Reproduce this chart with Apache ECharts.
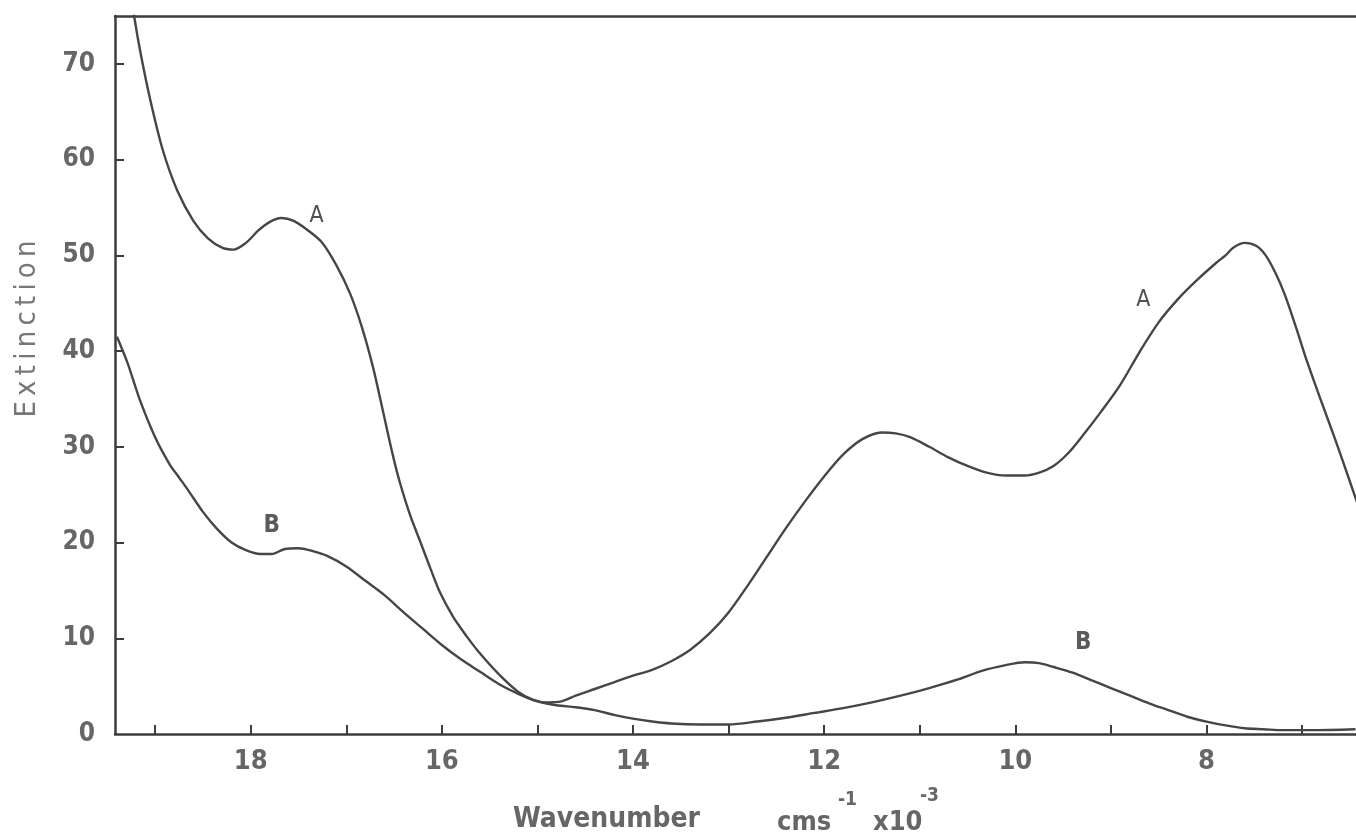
<!DOCTYPE html>
<html>
<head>
<meta charset="utf-8">
<title>Extinction spectra</title>
<script src="https://cdn.jsdelivr.net/npm/echarts@6/dist/echarts.min.js"></script>
<style>
  html, body { margin: 0; padding: 0; background: #fff; }
  #chart { width: 1356px; height: 840px; }
</style>
</head>
<body>
<div id="chart"></div>
<script>
// Wavenumber (cm^-1 x 10^-3) against extinction for the two spectra.
const curveA = [
  [19.26, 78.0], [19.22, 75.0], [19.15, 71.0], [19.05, 66.2], [18.92, 61.0],
  [18.77, 56.8], [18.60, 53.6], [18.45, 51.8], [18.30, 50.8], [18.18, 50.6],
  [18.05, 51.3], [17.92, 52.6], [17.80, 53.5], [17.68, 53.9], [17.55, 53.6],
  [17.40, 52.6], [17.25, 51.3], [17.10, 48.9], [16.96, 46.0], [16.84, 42.6],
  [16.72, 38.3], [16.62, 33.9], [16.51, 29.0], [16.44, 26.3], [16.33, 22.8],
  [16.23, 20.2], [16.12, 17.3], [16.02, 14.8], [15.88, 12.2], [15.74, 10.2],
  [15.60, 8.4], [15.40, 6.2], [15.20, 4.4], [15.05, 3.6], [14.90, 3.3],
  [14.75, 3.4], [14.60, 4.0], [14.40, 4.7], [14.20, 5.4], [14.00, 6.1],
  [13.80, 6.7], [13.60, 7.6], [13.40, 8.8], [13.20, 10.5], [13.00, 12.7],
  [12.80, 15.5], [12.60, 18.5], [12.40, 21.5], [12.20, 24.3], [12.00, 26.9],
  [11.80, 29.2], [11.60, 30.8], [11.40, 31.5], [11.25, 31.4], [11.10, 31.0],
  [10.90, 30.0], [10.70, 28.9], [10.50, 28.0], [10.30, 27.3], [10.10, 27.0],
  [9.90, 27.0], [9.75, 27.3], [9.60, 28.0], [9.45, 29.3], [9.30, 31.1],
  [9.10, 33.7], [8.90, 36.5], [8.70, 39.9], [8.50, 43.0], [8.30, 45.4],
  [8.10, 47.4], [7.90, 49.2], [7.80, 50.0], [7.72, 50.8], [7.60, 51.3],
  [7.48, 51.0], [7.38, 50.0], [7.28, 48.2], [7.18, 45.9], [7.06, 42.4],
  [6.95, 39.0], [6.80, 34.8], [6.65, 30.7], [6.50, 26.4], [6.40, 23.5]
];

const curveB = [
  [19.40, 41.5], [19.29, 38.8], [19.16, 34.9], [19.00, 31.0], [18.85, 28.2],
  [18.75, 26.8], [18.65, 25.4], [18.50, 23.2], [18.35, 21.4], [18.20, 20.0],
  [18.05, 19.2], [17.90, 18.8], [17.78, 18.8], [17.65, 19.3], [17.50, 19.4],
  [17.35, 19.1], [17.20, 18.6], [17.00, 17.5], [16.80, 16.0], [16.60, 14.5],
  [16.40, 12.7], [16.20, 11.0], [16.00, 9.3], [15.80, 7.8], [15.60, 6.5],
  [15.40, 5.2], [15.20, 4.2], [15.00, 3.4], [14.80, 3.0], [14.60, 2.8],
  [14.40, 2.5], [14.20, 2.0], [14.00, 1.6], [13.80, 1.3], [13.60, 1.1],
  [13.30, 1.0], [13.00, 1.0], [12.70, 1.3], [12.40, 1.7], [12.10, 2.2],
  [11.80, 2.7], [11.50, 3.3], [11.20, 4.0], [10.90, 4.8], [10.60, 5.7],
  [10.35, 6.6], [10.10, 7.2], [9.90, 7.5], [9.75, 7.4], [9.60, 7.0],
  [9.40, 6.4], [9.20, 5.6], [9.00, 4.8], [8.80, 4.0], [8.60, 3.2],
  [8.40, 2.5], [8.20, 1.8], [8.00, 1.3], [7.80, 0.9], [7.60, 0.6],
  [7.40, 0.5], [7.20, 0.4], [6.90, 0.4], [6.44, 0.5]
];

// Tick marks and labels
const xTicks = [7, 8, 9, 10, 11, 12, 13, 14, 15, 16, 17, 18, 19];
const xTickLabels = [8, 10, 12, 14, 16, 18];
const yTickLabels = [0, 10, 20, 30, 40, 50, 60, 70];

// Curve annotations: [text, wavenumber, extinction]
const curveLabelsA = [['A', 17.31, 54.1], ['A', 8.66, 45.35]];
const curveLabelsB = [['B', 17.78, 21.7], ['B', 9.29, 9.5]];

const X_MIN = 6.435, X_MAX = 19.42, Y_MAX = 75;
const INK = '#3c3c3c';
const CURVE = '#464646';
const TEXT = '#666666';
const COND = '"DejaVu Sans Condensed", "DejaVu Sans", sans-serif';

function annotations(list, bold) {
  return {
    symbol: 'circle',
    symbolSize: 0,
    silent: true,
    label: {
      show: true,
      position: 'inside',
      formatter: p => p.name,
      color: bold ? '#5a5a5a' : '#505050',
      fontFamily: COND,
      fontSize: bold ? 24 : 23,
      fontWeight: bold ? 'bold' : 'normal'
    },
    data: list.map(d => ({ name: d[0], coord: [d[1], d[2]] }))
  };
}

const chart = echarts.init(document.getElementById('chart'), null, { renderer: 'canvas' });

chart.setOption({
  animation: false,
  backgroundColor: '#ffffff',
  grid: { left: 115, right: 0, top: 16, bottom: 106, containLabel: false },
  xAxis: [
    {
      type: 'value',
      inverse: true,
      min: X_MIN,
      max: X_MAX,
      axisLine: { show: true, onZero: false, lineStyle: { color: INK, width: 2.5 } },
      axisTick: {
        show: true, inside: true, length: 9, customValues: xTicks,
        lineStyle: { color: INK, width: 2 }
      },
      axisLabel: {
        show: true, customValues: xTickLabels, margin: 14,
        color: TEXT, fontFamily: COND, fontWeight: 'bold', fontSize: 27
      },
      splitLine: { show: false }
    },
    {
      type: 'value',
      position: 'top',
      inverse: true,
      min: X_MIN,
      max: X_MAX,
      axisLine: { show: true, onZero: false, lineStyle: { color: INK, width: 2.5 } },
      axisTick: { show: false },
      axisLabel: { show: false },
      splitLine: { show: false }
    }
  ],
  yAxis: {
    type: 'value',
    min: 0,
    max: Y_MAX,
    axisLine: { show: true, onZero: false, lineStyle: { color: INK, width: 2.5 } },
    axisTick: {
      show: true, inside: true, length: 9, customValues: yTickLabels.slice(1),
      lineStyle: { color: INK, width: 2 }
    },
    axisLabel: {
      show: true, customValues: yTickLabels, margin: 20,
      color: TEXT, fontFamily: COND, fontWeight: 'bold', fontSize: 26
    },
    splitLine: { show: false }
  },
  series: [
    {
      name: 'A',
      type: 'line',
      xAxisIndex: 0,
      data: curveA,
      smooth: 0.3,
      showSymbol: false,
      clip: true,
      lineStyle: { color: CURVE, width: 2.4 },
      markPoint: annotations(curveLabelsA, false)
    },
    {
      name: 'B',
      type: 'line',
      xAxisIndex: 0,
      data: curveB,
      smooth: 0.3,
      showSymbol: false,
      clip: true,
      lineStyle: { color: CURVE, width: 2.4 },
      markPoint: annotations(curveLabelsB, true)
    }
  ],
  graphic: [
    {
      type: 'text',
      x: 27, y: 329,
      rotation: Math.PI / 2,
      style: {
        text: 'E\u2009x\u2009t\u2009i\u2009n\u2009c\u2009t\u2009i\u2009o\u2009n',
        font: '29px ' + COND,
        fill: '#777777',
        align: 'center',
        verticalAlign: 'middle'
      }
    },
    {
      type: 'text', x: 513, y: 820,
      style: { text: 'Wavenumber', font: 'bold 28px ' + COND, fill: TEXT, align: 'left', verticalAlign: 'middle' }
    },
    {
      type: 'text', x: 777, y: 823,
      style: { text: 'cms', font: 'bold 27px ' + COND, fill: TEXT, align: 'left', verticalAlign: 'middle' }
    },
    {
      type: 'text', x: 838, y: 800,
      style: { text: '-1', font: 'bold 19px ' + COND, fill: TEXT, align: 'left', verticalAlign: 'middle' }
    },
    {
      type: 'text', x: 873, y: 823,
      style: { text: 'x10', font: 'bold 27px ' + COND, fill: TEXT, align: 'left', verticalAlign: 'middle' }
    },
    {
      type: 'text', x: 920, y: 796,
      style: { text: '-3', font: 'bold 19px ' + COND, fill: TEXT, align: 'left', verticalAlign: 'middle' }
    }
  ]
});
</script>
</body>
</html>
